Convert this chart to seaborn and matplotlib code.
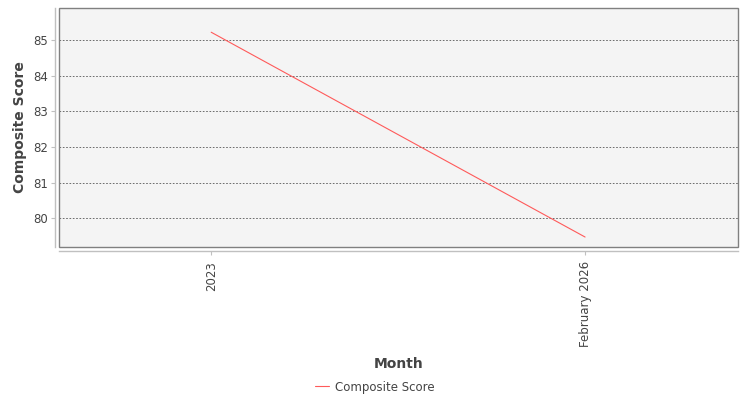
import pandas as pd
import seaborn as sns
import matplotlib.pyplot as plt
from matplotlib.patches import Rectangle

months = ["2023", "February 2026"]
scores = [85.22, 79.47]

df = pd.DataFrame({"Month": months, "Composite Score": scores})

sns.set_style("white")
plt.rcParams["font.family"] = ["DejaVu Sans"]

fig = plt.figure(figsize=(7.5, 4), dpi=100)
ax = fig.add_axes([59 / 750, 1 - 247 / 400, 679 / 750, 239 / 400])
ax.set_facecolor("#f4f4f4")

sns.lineplot(data=df, x="Month", y="Composite Score", color="#ff5a5a",
             linewidth=0.8, label="Composite Score", ax=ax)

ax.set_xlim(-0.407, 1.409)
ax.set_ylim(79.19, 85.9)
ax.set_yticks([80, 81, 82, 83, 84, 85])
ax.yaxis.grid(True, color="#555555", linestyle=(0, (2, 2)), linewidth=0.6)
ax.xaxis.grid(False)

# border round the plot area, axis lines pushed out a bit
ax.add_patch(Rectangle((0, 0), 1, 1, transform=ax.transAxes, fill=False,
                       edgecolor="#808080", linewidth=1, clip_on=False, zorder=5))
for side in ["top", "right"]:
    ax.spines[side].set_visible(False)
for side in ["left", "bottom"]:
    ax.spines[side].set_position(("outward", 3))
    ax.spines[side].set_color("#c0c0c0")
    ax.spines[side].set_linewidth(1)

ax.tick_params(axis="both", bottom=True, left=True, colors="#c0c0c0",
               length=3, width=0.8, pad=2, labelcolor="#444444", labelsize=8.5)
ax.tick_params(axis="x", labelrotation=90, pad=4)

ax.set_xlabel("Month", fontsize=10, fontweight="bold", color="#444444", labelpad=7.5)
ax.set_ylabel("Composite Score", fontsize=10, fontweight="bold", color="#444444")
ax.yaxis.set_label_coords(-0.047, 0.5)

ax.legend(loc="center", bbox_to_anchor=(0.5, 1 - 387 / 400), bbox_transform=fig.transFigure,
          frameon=False, fontsize=8.5, handlelength=1.2, handletextpad=0.5,
          labelcolor="#444444")

fig.savefig("out.png", dpi=100)
